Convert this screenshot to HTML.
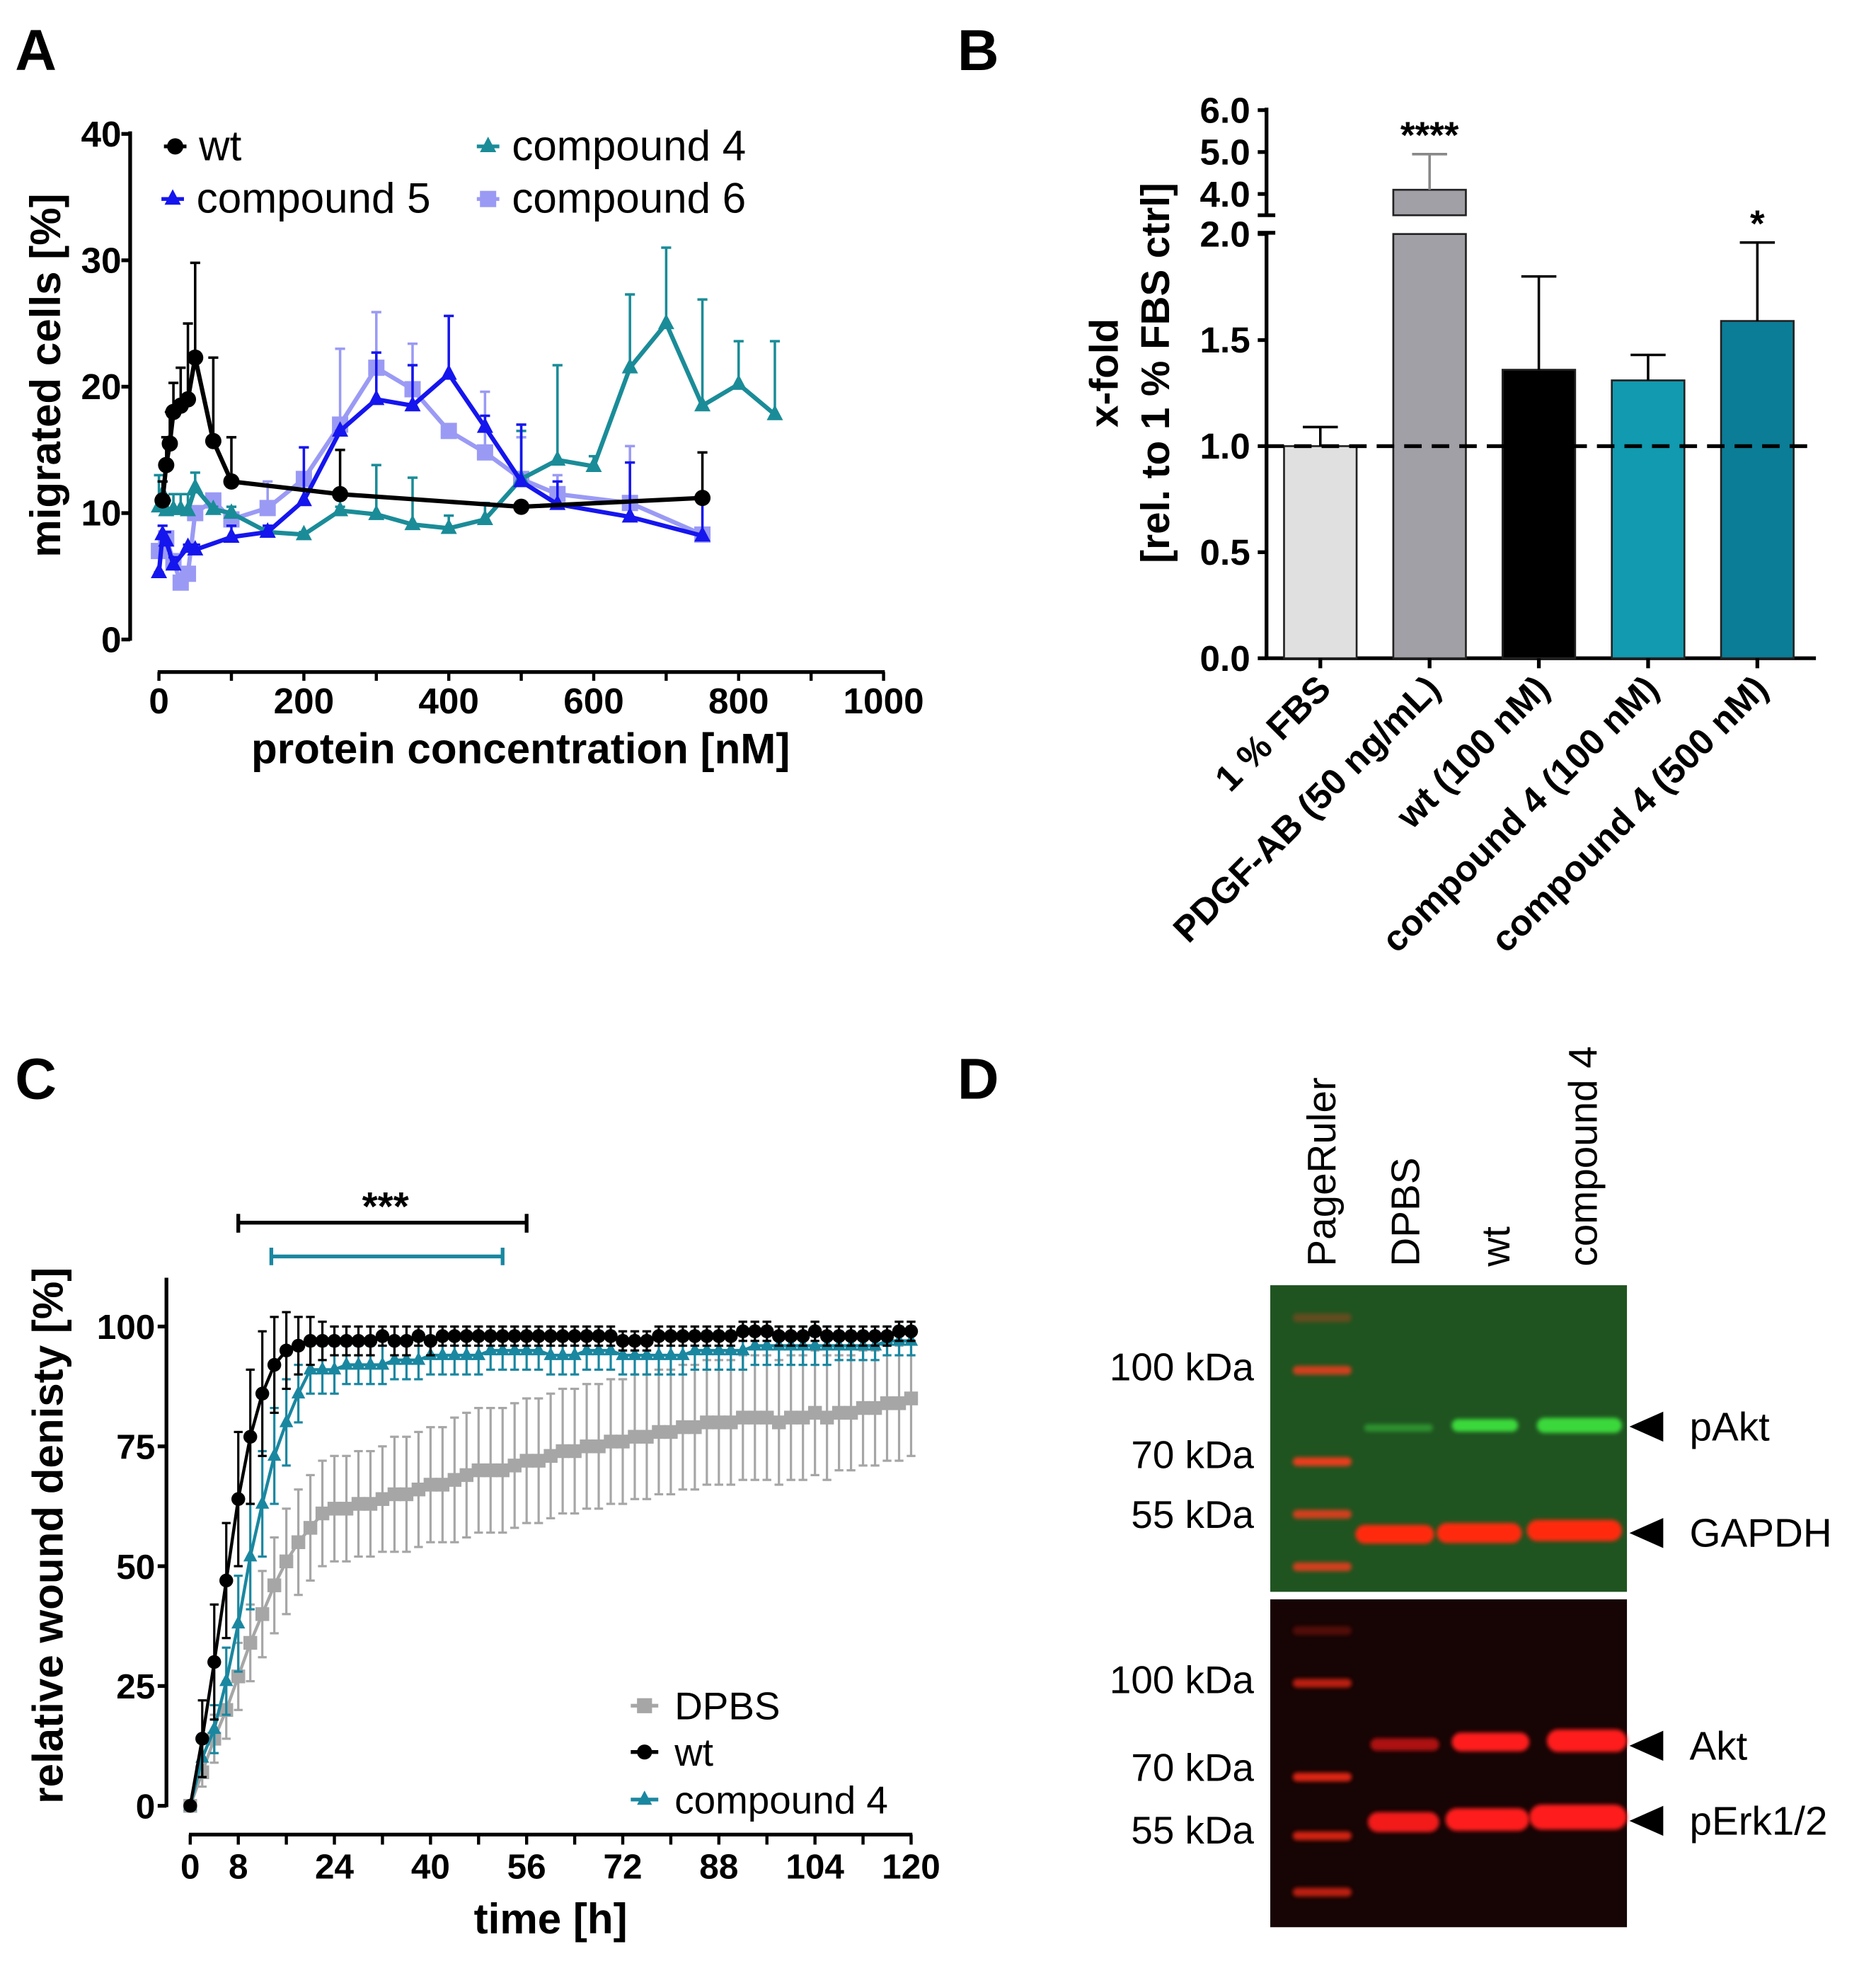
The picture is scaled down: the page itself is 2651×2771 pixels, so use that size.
<!DOCTYPE html>
<html><head><meta charset="utf-8"><style>
html,body{margin:0;padding:0;background:#fff;width:2651px;height:2771px;overflow:hidden}
svg{display:block}
text{font-family:"Liberation Sans",Arial,sans-serif}
.b{font-weight:bold}
</style></head><body>
<svg id="fig" width="2651" height="2771" viewBox="0 0 1499 1567" preserveAspectRatio="none" xmlns="http://www.w3.org/2000/svg">
<g id="pA"></g>
<g id="pB"></g>
<g id="pC"></g>
<g id="pD"></g>
</svg>
<script>
// ---------- Panel A data ----------
const aWtX=[5,10,15,20,30,40,50,75,100,250,500,750];
const aWtY=[11,13.8,15.5,18,18.5,19,22.3,15.7,12.5,11.5,10.5,11.2];
const aWtE=[12.5,16,18,20.3,21.5,25,29.8,22.3,16,15,10.5,14.8];
const aC5X=[0,5,10,20,40,50,100,150,200,250,300,350,400,450,500,550,650,750];
const aC5Y=[5.3,8.3,7.8,5.9,7.3,7.1,8.1,8.5,11,16.5,19,18.5,21,16.8,12.5,10.7,9.7,8.2];
const aC5E=[5.3,9,8.5,6.5,7.5,7.5,9,9,15.2,16.5,22.7,21.7,25.6,17.7,17,12.5,14,11];
const aC6X=[0,10,20,30,40,50,75,100,150,200,250,300,350,400,450,500,550,650,750];
const aC6Y=[7,8,6.2,4.5,5.2,10,11,9.5,10.4,12.7,17,21.5,19.8,16.5,14.8,12.7,11.5,10.8,8.3];
const aC6E=[7,8.5,6.5,4.8,5.5,10.5,11.5,10,12.5,13,23,25.9,23.4,16.5,19.6,16,13,15.3,8.5];
const aC4X=[0,5,10,20,30,40,50,75,100,150,200,250,300,350,400,450,500,550,600,650,700,750,800,850];
const aC4Y=[10.5,11.5,10.2,10.3,10.3,10.2,12,10.3,10,8.5,8.3,10.2,9.9,9.1,8.8,9.5,12.7,14.2,13.7,21.5,25,18.5,20.2,17.8];
const aC4E=[13,12.5,11,11.5,11.5,11.5,13.2,10.5,10.5,8.8,8.5,10.5,13.8,12.8,9.8,10.8,16.5,21.7,14.5,27.3,31,26.9,23.6,23.6];
const aXTicks=[0,200,400,600,800,1000];
const aYTicks=[0,10,20,30,40];
// ---------- Panel B data ----------
const bCats=["1 % FBS","PDGF-AB (50 ng/mL)","wt (100 nM)","compound 4 (100 nM)","compound 4 (500 nM)"];
const bVals=[1.0,4.1,1.36,1.31,1.59];
const bErr=[1.09,4.95,1.8,1.43,1.96];
const bStars=["","****","","","*"];
const bLowTicks=[0.0,0.5,1.0,1.5,2.0];
const bHighTicks=[4.0,5.0,6.0];
// ---------- Panel C data ----------
const cTime=[0,2,4,6,8,10,12,14,16,18,20,22,24,26,28,30,32,34,36,38,40,42,44,46,48,50,52,54,56,58,60,62,64,66,68,70,72,74,76,78,80,82,84,86,88,90,92,94,96,98,100,102,104,106,108,110,112,114,116,118,120];
const cDpbs=[0,7,14,20,27,34,40,46,51,55,58,61,62,62,63,63,64,65,65,66,67,67,68,69,70,70,70,71,72,72,73,74,74,75,75,76,76,77,77,78,78,79,79,80,80,80,81,81,81,80,81,81,82,81,82,82,83,83,84,84,85];
const cDpbsSd=[0,3,5,6,7,8,9,10,11,11,11,11,11,11,11,11,11,12,12,12,12,12,13,13,13,13,13,13,13,13,13,13,13,13,13,13,13,13,13,13,13,13,13,13,13,13,13,13,13,13,13,13,13,13,12,12,12,12,12,12,12];
const cWt=[0,14,30,47,64,77,86,92,95,96,97,97,97,97,97,97,98,97,97,98,97,98,98,98,98,98,98,98,98,98,98,98,98,98,98,98,97,97,97,98,98,98,98,98,98,98,99,99,99,98,98,98,99,98,98,98,98,98,98,99,99];
const cWtSd=[0,8,12,12,14,14,13,10,8,6,5,4,3,3,3,3,2,3,3,2,3,2,2,2,2,2,2,2,2,2,2,2,2,2,2,2,2,2,2,2,2,2,2,2,2,2,2,2,2,2,2,2,2,2,2,2,2,2,2,2,2];
const cC4=[0,10,16,26,38,52,63,73,80,86,91,91,91,92,92,92,92,93,93,93,94,94,94,94,94,95,95,95,95,95,94,94,94,95,95,95,94,94,94,94,94,94,95,95,95,95,95,96,96,96,96,96,96,96,96,96,96,96,97,97,97];
const cC4Sd=[0,4,5,7,10,11,11,10,9,6,5,5,5,4,4,4,4,4,4,4,4,4,4,4,4,4,4,4,4,4,4,4,4,4,4,4,4,4,4,4,4,4,4,4,4,4,4,4,4,4,4,4,4,4,3,3,3,3,3,3,3];
const cXTicks=[0,8,24,40,56,72,88,104,120];
const cYTicks=[0,25,50,75,100];

const NS="http://www.w3.org/2000/svg";
function mk(parent,tag,attrs,txt){const e=document.createElementNS(NS,tag);for(const k in attrs)e.setAttribute(k,attrs[k]);if(txt!==undefined)e.textContent=txt;parent.appendChild(e);return e;}

// ================= Panel A =================
const A=document.getElementById('pA');
const ax=v=>127+v*0.579, ay=v=>511-v*10.1;
let t;
t=mk(A,'text',{x:12,y:56,'font-size':46,'class':'b'},'A');


let l=mk(A,'line',{x1:104,y1:105,x2:104,y2:512,stroke:'#000','stroke-width':3});


aYTicks.forEach(v=>{
  mk(A,'line',{x1:97,y1:ay(v),x2:104,y2:ay(v),stroke:'#000','stroke-width':3});
  t=mk(A,'text',{x:97,y:ay(v)+10,'font-size':29,'class':'b','text-anchor':'end'},v);
  
  
});
l=mk(A,'line',{x1:126,y1:537,x2:707,y2:537,stroke:'#000','stroke-width':3});


for(let v=0;v<=1000;v+=100){mk(A,'line',{x1:ax(v),y1:537,x2:ax(v),y2:544,stroke:'#000','stroke-width':2.5});}
aXTicks.forEach(v=>{
  t=mk(A,'text',{x:ax(v),y:570,'font-size':29,'class':'b','text-anchor':'middle'},v);
  
  
});
t=mk(A,'text',{x:416,y:610,'font-size':34,'class':'b','text-anchor':'middle'},'protein concentration [nM]');


t=mk(A,'text',{x:0,y:0,'font-size':34,'class':'b','text-anchor':'middle',transform:'translate(48,300) rotate(-90)'},'migrated cells [%]');


function marker(g,shape,x,y,c,s){
  if(shape==='circle')return mk(g,'circle',{cx:x,cy:y,r:s,fill:c});
  if(shape==='square')return mk(g,'rect',{x:x-s,y:y-s,width:2*s,height:2*s,fill:c});
  return mk(g,'polygon',{points:`${x},${y-s*1.2} ${x-s},${y+s*0.7} ${x+s},${y+s*0.7}`,fill:c});
}
function seriesA(name,X,Y,E,c,shape){
  const g=mk(A,'g',{});
  
  
  X.forEach((x,i)=>{
    mk(g,'line',{x1:ax(x),y1:ay(Y[i]),x2:ax(x),y2:ay(E[i]),stroke:c,'stroke-width':2});
    mk(g,'line',{x1:ax(x)-4,y1:ay(E[i]),x2:ax(x)+4,y2:ay(E[i]),stroke:c,'stroke-width':2});
  });
  mk(g,'polyline',{points:X.map((x,i)=>ax(x)+','+ay(Y[i])).join(' '),fill:'none',stroke:c,'stroke-width':3.5});
  X.forEach((x,i)=>{const m=marker(g,shape,ax(x),ay(Y[i]),c,6.5);
    
    });
}
seriesA('series-compound-6',aC6X,aC6Y,aC6E,'#9a9af5','square');
seriesA('series-compound-4',aC4X,aC4Y,aC4E,'#1a8c98','tri');
seriesA('series-compound-5',aC5X,aC5Y,aC5E,'#1515ee','tri');
seriesA('series-wt',aWtX,aWtY,aWtE,'#000','circle');
[['wt',140,117,'#000','circle'],['compound 5',138,159,'#1515ee','tri'],['compound 4',390,117,'#1a8c98','tri'],['compound 6',390,159,'#9a9af5','square']].forEach(d=>{
  const g=mk(A,'g',{});
  
  
  mk(g,'line',{x1:d[1]-9,y1:d[2],x2:d[1]+9,y2:d[2],stroke:d[3],'stroke-width':3});
  marker(g,d[4],d[1],d[2],d[3],6.5);
  mk(g,'text',{x:d[1]+19,y:d[2]+11,'font-size':34},d[0]);
});

// ================= Panel B =================
const B=document.getElementById('pB');
const byL=v=>526-v*169.5, byH=v=>155-(v-4)*33.5;
t=mk(B,'text',{x:765,y:56,'font-size':46,'class':'b'},'B');


l=mk(B,'line',{x1:1012,y1:86,x2:1012,y2:172,stroke:'#000','stroke-width':3});


l=mk(B,'line',{x1:1012,y1:185,x2:1012,y2:527,stroke:'#000','stroke-width':3});


mk(B,'line',{x1:1005,y1:172,x2:1019,y2:172,stroke:'#000','stroke-width':3});
mk(B,'line',{x1:1005,y1:186,x2:1019,y2:186,stroke:'#000','stroke-width':3});
bLowTicks.forEach(v=>{mk(B,'line',{x1:1005,y1:byL(v),x2:1012,y2:byL(v),stroke:'#000','stroke-width':3});
  t=mk(B,'text',{x:999,y:byL(v)+10,'font-size':29,'class':'b','text-anchor':'end'},v.toFixed(1));
  
  });
bHighTicks.forEach(v=>{mk(B,'line',{x1:1005,y1:byH(v),x2:1012,y2:byH(v),stroke:'#000','stroke-width':3});
  t=mk(B,'text',{x:999,y:byH(v)+10,'font-size':29,'class':'b','text-anchor':'end'},v.toFixed(1));
  
  });
l=mk(B,'line',{x1:1011,y1:526,x2:1451,y2:526,stroke:'#000','stroke-width':3});


const bColors=['#e0e0e0','#a0a0a6','#000','#119ab0','#0b7d96'];
const bx=i=>1055+i*87.3;
bCats.forEach((c,i)=>{
  const x=bx(i),w=58;
  const g=mk(B,'g',{});
  
  
  let top,etop;
  if(bVals[i]>2){top=byH(bVals[i]);
    mk(g,'rect',{x:x-w/2,y:byL(2),width:w,height:526-byL(2),fill:bColors[i],stroke:'#222','stroke-width':1.5});
    mk(g,'rect',{x:x-w/2,y:top,width:w,height:172-top,fill:bColors[i],stroke:'#222','stroke-width':1.5});
    etop=byH(bErr[i]);
  }else{top=byL(bVals[i]);
    mk(g,'rect',{x:x-w/2,y:top,width:w,height:526-top,fill:bColors[i],stroke:'#222','stroke-width':1.5});
    etop=byL(bErr[i]);}
  mk(g,'line',{x1:x,y1:top,x2:x,y2:etop,stroke:i==1?'#888':'#000','stroke-width':2});
  mk(g,'line',{x1:x-14,y1:etop,x2:x+14,y2:etop,stroke:i==1?'#888':'#000','stroke-width':2});
  mk(B,'line',{x1:x,y1:526,x2:x,y2:534,stroke:'#000','stroke-width':3});
  if(bStars[i]){t=mk(B,'text',{x:x,y:etop-5,'font-size':30,'class':'b','text-anchor':'middle'},bStars[i]);
    
    }
  t=mk(B,'text',{x:0,y:0,'font-size':29,'class':'b','text-anchor':'end',transform:`translate(${x+10},${552}) rotate(-45)`},c);
  
  
});
l=mk(B,'line',{x1:1012,y1:byL(1),x2:1452,y2:byL(1),stroke:'#000','stroke-width':3,'stroke-dasharray':'14,8'});


t=mk(B,'text',{x:0,y:0,'font-size':32,'class':'b','text-anchor':'middle',transform:'translate(893,298) rotate(-90)'},'x-fold');


t=mk(B,'text',{x:0,y:0,'font-size':32,'class':'b','text-anchor':'middle',transform:'translate(934,298) rotate(-90)'},'[rel. to 1 % FBS ctrl]');



// ================= Panel C =================
const C=document.getElementById('pC');
const cx=v=>152+v*4.8, cy=v=>1443-v*3.83;
t=mk(C,'text',{x:12,y:878,'font-size':46,'class':'b'},'C');


l=mk(C,'line',{x1:133,y1:1021,x2:133,y2:1444,stroke:'#000','stroke-width':3});


cYTicks.forEach(v=>{mk(C,'line',{x1:126,y1:cy(v),x2:133,y2:cy(v),stroke:'#000','stroke-width':3});
  t=mk(C,'text',{x:124,y:cy(v)+10,'font-size':28,'class':'b','text-anchor':'end'},v);
  
  });
l=mk(C,'line',{x1:151,y1:1466,x2:729,y2:1466,stroke:'#000','stroke-width':3});


for(let v=0;v<=120;v+=8)mk(C,'line',{x1:cx(v),y1:1466,x2:cx(v),y2:1474,stroke:'#000','stroke-width':2.5});
cXTicks.forEach(v=>{t=mk(C,'text',{x:cx(v),y:1501,'font-size':28,'class':'b','text-anchor':'middle'},v);
  
  });
t=mk(C,'text',{x:440,y:1545,'font-size':34,'class':'b','text-anchor':'middle'},'time [h]');


t=mk(C,'text',{x:0,y:0,'font-size':34,'class':'b','text-anchor':'middle',transform:'translate(50,1227) rotate(-90)'},'relative wound denisty [%]');


function seriesC(name,Y,S,c,shape,ms){
  const g=mk(C,'g',{});
  
  
  cTime.forEach((x,i)=>{const a=cy(Y[i]+S[i]),b=cy(Y[i]-S[i]);
    mk(g,'line',{x1:cx(x),y1:a,x2:cx(x),y2:b,stroke:c,'stroke-width':1.8});
    mk(g,'line',{x1:cx(x)-3.5,y1:a,x2:cx(x)+3.5,y2:a,stroke:c,'stroke-width':1.8});
    mk(g,'line',{x1:cx(x)-3.5,y1:b,x2:cx(x)+3.5,y2:b,stroke:c,'stroke-width':1.8});});
  mk(g,'polyline',{points:cTime.map((x,i)=>cx(x)+','+cy(Y[i])).join(' '),fill:'none',stroke:c,'stroke-width':2.5});
  cTime.forEach((x,i)=>marker(g,shape,cx(x),cy(Y[i]),c,ms));
}
seriesC('series-dpbs',cDpbs,cDpbsSd,'#a6a6a6','square',5.5);
seriesC('series-compound-4',cC4,cC4Sd,'#1a87a0','tri',5.5);
seriesC('series-wt',cWt,cWtSd,'#000','circle',5.5);
let g=mk(C,'g',{});


mk(g,'line',{x1:cx(8),y1:977,x2:cx(56),y2:977,stroke:'#000','stroke-width':3});
mk(g,'line',{x1:cx(8),y1:970,x2:cx(8),y2:985,stroke:'#000','stroke-width':3});
mk(g,'line',{x1:cx(56),y1:970,x2:cx(56),y2:985,stroke:'#000','stroke-width':3});
mk(g,'text',{x:308,y:975,'font-size':32,'class':'b','text-anchor':'middle'},'***');
g=mk(C,'g',{});


mk(g,'line',{x1:cx(13.5),y1:1004,x2:cx(52),y2:1004,stroke:'#1a87a0','stroke-width':3});
mk(g,'line',{x1:cx(13.5),y1:997,x2:cx(13.5),y2:1011,stroke:'#1a87a0','stroke-width':3});
mk(g,'line',{x1:cx(52),y1:997,x2:cx(52),y2:1011,stroke:'#1a87a0','stroke-width':3});
[['DPBS',1363,'#a6a6a6','square'],['wt',1400,'#000','circle'],['compound 4',1438,'#1a87a0','tri']].forEach(d=>{
  const g=mk(C,'g',{});
  
  
  mk(g,'line',{x1:504,y1:d[1],x2:526,y2:d[1],stroke:d[2],'stroke-width':3});
  marker(g,d[3],515,d[1],d[2],6);
  mk(g,'text',{x:539,y:d[1]+11,'font-size':31},d[0]);
});

// ================= Panel D =================
const D=document.getElementById('pD');
t=mk(D,'text',{x:765,y:878,'font-size':46,'class':'b'},'D');


const defs=mk(D,'defs',{});
const f=mk(defs,'filter',{id:'blur',x:'-20%',y:'-50%',width:'140%',height:'200%'});
mk(f,'feGaussianBlur',{stdDeviation:1.6});
let r=mk(D,'rect',{x:1015,y:1027,width:285,height:245,fill:'#1f5420'});


r=mk(D,'rect',{x:1015,y:1278,width:285,height:262,fill:'#170404'});


const band=(x1,x2,y,h,c,op)=>{const e=mk(D,'rect',{x:x1,y:y-h/2,width:x2-x1,height:h,rx:h/2,fill:c,opacity:op,filter:'url(#blur)'});
  
  };
[[1053,.3],[1095,.8],[1168,.9],[1210,.8],[1252,.8]].forEach(b=>band(1033,1080,b[0],7,'#ff3a1a',b[1]));
band(1090,1145,1141,6,'#3ccc3c',.5);band(1160,1213,1139,10,'#3ee03e',.95);band(1228,1296,1139,12,'#3ee03e',.95);
band(1083,1146,1226,15,'#ff2a10',1);band(1148,1216,1225,16,'#ff2a10',1);band(1220,1296,1223,17,'#ff2a10',1);
[[1303,.25],[1345,.7],[1420,.85],[1467,.8],[1512,.7]].forEach(b=>band(1033,1080,b[0],7,'#ff2a14',b[1]));
band(1095,1150,1394,10,'#e01818',.75);band(1160,1222,1392,15,'#ff1f1f',1);band(1236,1300,1391,18,'#ff1f1f',1);
band(1093,1150,1456,16,'#ff1f1f',.95);band(1155,1222,1454,18,'#ff1f1f',1);band(1222,1300,1452,20,'#ff1f1f',1);
[['PageRuler',1067],['DPBS',1134],['wt',1206],['compound 4',1276]].forEach(d=>{
  t=mk(D,'text',{x:0,y:0,'font-size':32,'text-anchor':'start',transform:`translate(${d[1]},1012) rotate(-90)`},d[0]);
  
  });
[[1092,'100 kDa'],[1162,'70 kDa'],[1210,'55 kDa'],[1342,'100 kDa'],[1412,'70 kDa'],[1462,'55 kDa']].forEach(d=>{
  t=mk(D,'text',{x:1002,y:d[0]+11,'font-size':31,'text-anchor':'end'},d[1]);
  
  });
[[1140,'pAkt'],[1225,'GAPDH'],[1395,'Akt'],[1455,'pErk1/2']].forEach(d=>{
  const g=mk(D,'g',{});
  
  
  mk(g,'polygon',{points:`1302,${d[0]} 1329,${d[0]-12} 1329,${d[0]+12}`,fill:'#000'});
  mk(g,'text',{x:1350,y:d[0]+11,'font-size':32},d[1]);});
</script>
</body></html>
